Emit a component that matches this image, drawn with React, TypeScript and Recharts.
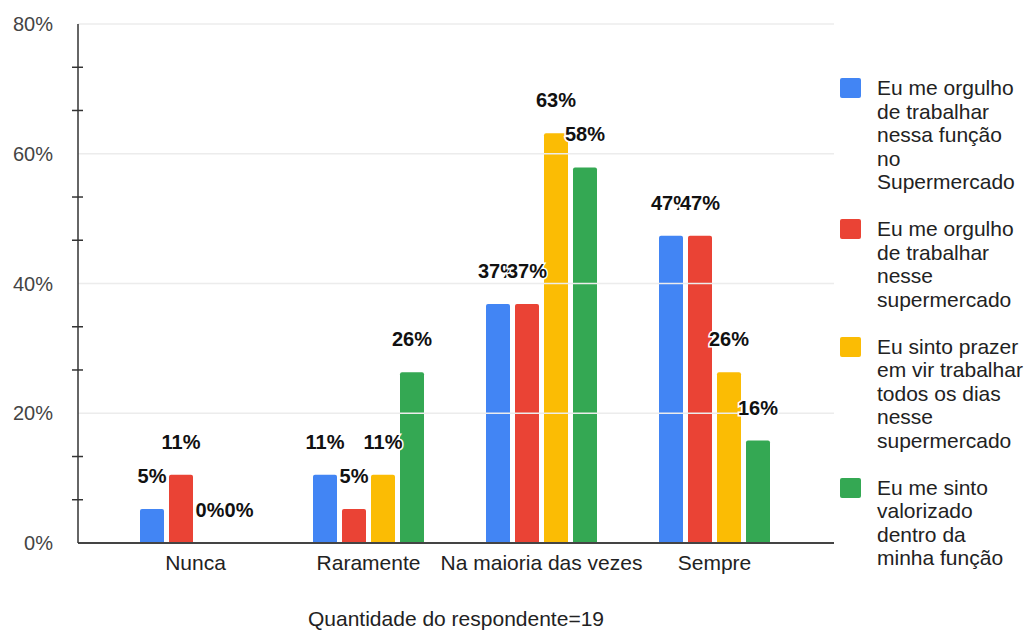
import { Bar, BarChart, LabelList, ReferenceLine, XAxis, YAxis } from 'recharts';

const FONT = '"Liberation Sans", Arial, sans-serif';

const categories = ['Nunca', 'Raramente', 'Na maioria das vezes', 'Sempre'];
const orgulhoFuncao = [5.26, 10.53, 36.84, 47.37];
const orgulhoSupermercado = [10.53, 5.26, 36.84, 47.37];
const prazer = [0, 10.53, 63.16, 26.32];
const valorizado = [0, 26.32, 57.89, 15.79];

const majorTicks = [0, 20, 40, 60, 80];
const minorTicks = [6.67, 13.33, 26.67, 33.33, 46.67, 53.33, 66.67, 73.33];
const gridLines = [20, 40, 60, 80];

const series = [
  { key: 'a', name: 'Eu me orgulho\nde trabalhar\nnessa função\nno\nSupermercado', color: '#4285F4' },
  { key: 'b', name: 'Eu me orgulho\nde trabalhar\nnesse\nsupermercado', color: '#EA4335' },
  { key: 'c', name: 'Eu sinto prazer\nem vir trabalhar\ntodos os dias\nnesse\nsupermercado', color: '#FBBC04' },
  { key: 'd', name: 'Eu me sinto\nvalorizado\ndentro da\nminha função', color: '#34A853' },
];

const data = categories.map((name, i) => ({
  name,
  a: orgulhoFuncao[i],
  b: orgulhoSupermercado[i],
  c: prazer[i],
  d: valorizado[i],
}));

function YTick({ x, y, payload }: any) {
  const v = payload.value;
  if (majorTicks.includes(v)) {
    return (
      <text x={x - 25} y={y} dy={7} textAnchor="end" fill="#444" fontSize={20} fontFamily={FONT}>
        {v}%
      </text>
    );
  }
  return <line x1={x - 6} x2={x + 5} y1={y} y2={y} stroke="#333" strokeWidth={1.5} />;
}

const pct = (v: any) => `${Math.round(Number(v))}%`;

export default function App() {
  return (
    <div style={{ position: 'absolute', left: 0, top: 0, width: 1029, height: 633, background: '#fff', fontFamily: FONT }}>
      <BarChart
        width={1029}
        height={633}
        data={data}
        margin={{ top: 24, right: 195, bottom: 60, left: 0 }}
        barSize={24}
        barGap={5}
      >
        {gridLines.map((g) => (
          <ReferenceLine key={g} y={g} stroke="#ececec" strokeWidth={1.5} />
        ))}
        <XAxis
          dataKey="name"
          interval={0}
          padding={{ left: 31, right: 33 }}
          tickLine={false}
          tickSize={0}
          tickMargin={12}
          height={30}
          axisLine={{ stroke: '#444', strokeWidth: 2 }}
          tick={{ fill: '#222', fontSize: 21, fontFamily: FONT }}
          label={{
            value: 'Quantidade do respondente=19',
            position: 'bottom',
            offset: 38,
            style: { fill: '#222', fontSize: 21, fontFamily: FONT },
          }}
        />
        <YAxis
          width={78}
          domain={[0, 80]}
          ticks={[...majorTicks, ...minorTicks].sort((p, q) => p - q)}
          interval={0}
          tickLine={false}
          tickSize={0}
          tickMargin={0}
          axisLine={{ stroke: '#333', strokeWidth: 1.5 }}
          tick={<YTick />}
        />
        {series.map((s) => (
          <Bar
            key={s.key}
            dataKey={s.key}
            name={s.name}
            fill={s.color}
            radius={[2, 2, 0, 0]}
            minPointSize={0.2}
            isAnimationActive={false}
          >
            <LabelList
              dataKey={s.key}
              position="top"
              offset={26}
              formatter={pct}
              style={{
                fill: '#111',
                fontSize: 20,
                fontWeight: 'bold',
                fontFamily: FONT,
                stroke: '#fff',
                strokeWidth: 3,
                paintOrder: 'stroke',
              }}
            />
          </Bar>
        ))}
      </BarChart>
      <div style={{ position: 'absolute', left: 840, top: 76, width: 189, color: '#222', fontSize: 21, lineHeight: '23.5px' }}>
        {series.map((s) => (
          <div key={s.key} style={{ display: 'flex', alignItems: 'flex-start', marginBottom: 23.5 }}>
            <div style={{ width: 21, height: 20, marginTop: 2, borderRadius: 2, background: s.color, flexShrink: 0 }} />
            <div style={{ marginLeft: 16, whiteSpace: 'pre-line' }}>{s.name}</div>
          </div>
        ))}
      </div>
    </div>
  );
}
